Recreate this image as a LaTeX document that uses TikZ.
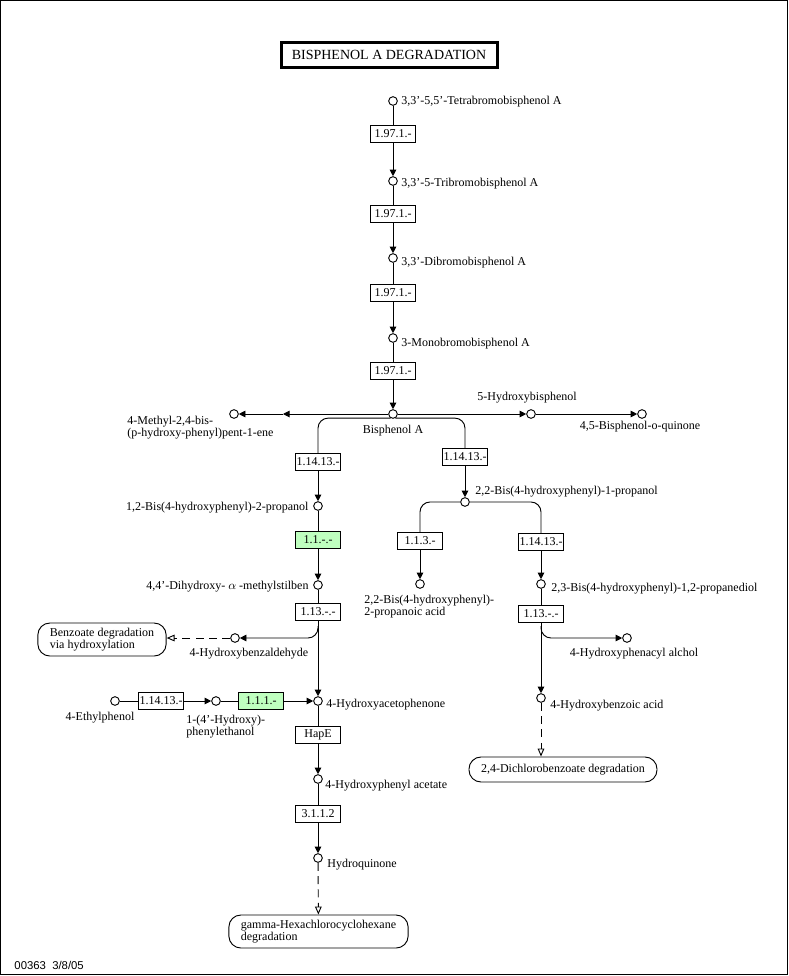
\documentclass[tikz,border=0pt]{standalone}
\usepackage{fontspec}
\setmainfont{Liberation Serif}
\setsansfont{Liberation Sans}
\usetikzlibrary{arrows.meta,calc,positioning}
\definecolor{ecgreen}{RGB}{191,255,191}

\begin{document}
\begin{tikzpicture}[x=0.75pt,y=-0.75pt,line width=0.7pt,>={Triangle[length=5pt,width=5pt]}]

\tikzset{cpd/.style={draw,circle,inner sep=0pt,minimum size=6.5pt,fill=white},
enz/.style={draw,rectangle,inner sep=0pt,minimum width=33.75pt,minimum height=12.75pt,font=\fontsize{9}{9}\selectfont},
enzg/.style={enz,fill=ecgreen},
lbl/.style={font=\fontsize{9}{9}\selectfont,inner sep=0pt,align=left},
mapbox/.style={draw,rounded corners=9pt,font=\fontsize{9}{9}\selectfont,align=left,inner xsep=9pt,inner ysep=0pt},
dashto/.style={dash pattern=on 6pt off 4pt,-{Triangle[open,length=6pt,width=5pt]}}}

\useasboundingbox (0,0) rectangle (789,976);
\draw[line width=0.8pt] (0.5,0.5) rectangle (787.5,974.5);

% Title
\node[draw,line width=2.25pt,minimum width=162pt,minimum height=18.5pt,font=\fontsize{10.5}{10.5}\selectfont] (title) at (389,55) {BISPHENOL A DEGRADATION};

% Compounds
\node[cpd] (tbbpa) at (393,101) {};
\node[cpd] (tribpa) at (393,181) {};
\node[cpd] (dibpa) at (393,258) {};
\node[cpd] (monobpa) at (393,338) {};
\node[cpd] (bpa) at (393,414) {};
\node[cpd] (mpp) at (234,414) {};
\node[cpd] (hbis) at (531,414) {};
\node[cpd] (quin) at (642,414) {};
\node[cpd] (bhp2) at (318,506) {};
\node[cpd] (dhms) at (318,585) {};
\node[cpd] (hbald) at (235,638) {};
\node[cpd] (hap) at (318,701) {};
\node[cpd] (ethph) at (115,701) {};
\node[cpd] (hpe) at (216,701) {};
\node[cpd] (hpac) at (318,779) {};
\node[cpd] (hq) at (318,858) {};
\node[cpd] (bhp1) at (465,502) {};
\node[cpd] (bhpa) at (420,584) {};
\node[cpd] (bhpd) at (541,584) {};
\node[cpd] (hpaa) at (627,638) {};
\node[cpd] (hba) at (541,698) {};

% Compound labels
\node[lbl,anchor=west] (tbbpaL) at (401,102) {3,3'-5,5'-Tetrabromobisphenol A};
\node[lbl,anchor=west] (tribpaL) at (401,184) {3,3'-5-Tribromobisphenol A};
\node[lbl,anchor=west] (dibpaL) at (401,263) {3,3'-Dibromobisphenol A};
\node[lbl,anchor=west] (monobpaL) at (401,344) {3-Monobromobisphenol A};
\node[lbl] (bpaL) at (393,431) {Bisphenol A};
\node[lbl,anchor=west] (mppL) at (127,428) {4-Methyl-2,4-bis-\\(p-hydroxy-phenyl)pent-1-ene};
\node[lbl] (hbisL) at (527,398) {5-Hydroxybisphenol};
\node[lbl] (quinL) at (640,427) {4,5-Bisphenol-o-quinone};
\node[lbl,anchor=east] (bhp2L) at (309,508) {1,2-Bis(4-hydroxyphenyl)-2-propanol};
\node[lbl,anchor=east] (dhmsL) at (309,587) {4,4'-Dihydroxy- $\alpha$ -methylstilben};
\node[lbl] (hbaldL) at (249,654) {4-Hydroxybenzaldehyde};
\node[lbl] (ethphL) at (100,718) {4-Ethylphenol};
\node[lbl,anchor=west] (hpeL) at (186,727) {1-(4'-Hydroxy)-\\phenylethanol};
\node[lbl,anchor=west] (hapL) at (326,705) {4-Hydroxyacetophenone};
\node[lbl,anchor=west] (hpacL) at (325,786) {4-Hydroxyphenyl acetate};
\node[lbl,anchor=west] (hqL) at (327,865) {Hydroquinone};
\node[lbl,anchor=west] (bhp1L) at (475,492) {2,2-Bis(4-hydroxyphenyl)-1-propanol};
\node[lbl,anchor=west] (bhpaL) at (364,607) {2,2-Bis(4-hydroxyphenyl)-\\2-propanoic acid};
\node[lbl,anchor=west] (bhpdL) at (551,589) {2,3-Bis(4-hydroxyphenyl)-1,2-propanediol};
\node[lbl] (hpaaL) at (634,654) {4-Hydroxyphenacyl alchol};
\node[lbl,anchor=west] (hbaL) at (550,706) {4-Hydroxybenzoic acid};

% Enzymes
\node[enz] (e1) at (393,134) {1.97.1.-};
\node[enz] (e2) at (393,214) {1.97.1.-};
\node[enz] (e3) at (393,293) {1.97.1.-};
\node[enz] (e4) at (393,371) {1.97.1.-};
\node[enz] (e5) at (318,462) {1.14.13.-};
\node[enz] (e6) at (465,457) {1.14.13.-};
\node[enzg] (e7) at (318,540) {1.1.-.-};
\node[enz] (e8) at (318,612) {1.13.-.-};
\node[enz] (e9) at (420,541) {1.1.3.-};
\node[enz] (e10) at (541,542) {1.14.13.-};
\node[enz] (e11) at (541,614) {1.13.-.-};
\node[enz] (e12) at (161,701) {1.14.13.-};
\node[enzg] (e13) at (261,701) {1.1.1.-};
\node[enz] (e14) at (318,735) {HapE};
\node[enz] (e15) at (318,814) {3.1.1.2};

% Other maps
\node[mapbox,minimum height=24.75pt] (benzo) at (102,639.5) {Benzoate degradation\\via hydroxylation};
\node[mapbox,minimum height=24.75pt] (hch) at (318.5,931.5) {gamma-Hexachlorocyclohexane\\degradation};
\node[mapbox,minimum width=141pt,minimum height=18.75pt,align=center] (dcb) at (563,769.5) {2,4-Dichlorobenzoate degradation};

% Edges
\draw (tbbpa) -- (e1); \draw[->] (e1) -- (tribpa);
\draw (tribpa) -- (e2); \draw[->] (e2) -- (dibpa);
\draw (dibpa) -- (e3); \draw[->] (e3) -- (monobpa);
\draw (monobpa) -- (e4); \draw[->] (e4) -- (bpa);
\coordinate (mid1) at (283,414);
\draw[->] (bpa) -- (mid1); \draw[->] (mid1) -- (mpp); % to pentene
\draw[->] (bpa) -- (hbis); \draw[->] (hbis) -- (quin);
\draw[rounded corners=7.5pt] (bpa.240) -| (e5.north); \draw[->] (e5) -- (bhp2);
\draw[rounded corners=7.5pt] (bpa.300) -| (e6.north); \draw[->] (e6) -- (bhp1);
\draw (bhp2) -- (e7); \draw[->] (e7) -- (dhms);
\draw (dhms) -- (e8); \draw[->] (e8) -- (hap);
\coordinate (br1) at (318,626);
\draw[->,rounded corners=7.5pt] (br1) |- (hbald);
\draw[dashto] (hbald) -- (benzo.east |- hbald);
\draw (ethph) -- (e12); \draw[->] (e12) -- (hpe);
\draw (hpe) -- (e13); \draw[->] (e13) -- (hap);
\draw (hap) -- (e14); \draw[->] (e14) -- (hpac);
\draw (hpac) -- (e15); \draw[->] (e15) -- (hq);
\draw[dashto] (hq) -- (hch);
% right side
\draw[rounded corners=7.5pt] (bhp1.west) -| (e9.north); \draw[->] (e9) -- (bhpa);
\draw[rounded corners=7.5pt] (bhp1.east) -| (e10.north); \draw[->] (e10) -- (bhpd);
\draw (bhpd) -- (e11); \draw[->] (e11) -- (hba);
\coordinate (br2) at (541,626);
\draw[->,rounded corners=7.5pt] (br2) |- (hpaa);
\draw[dashto] (hba) -- (hba |- dcb.north);

% Footer
\node[font=\sffamily\fontsize{8.5}{8.5}\selectfont,anchor=west,inner sep=0pt] (foot) at (14,965) {00363\ \ 3/8/05};

\end{tikzpicture}
\end{document}
